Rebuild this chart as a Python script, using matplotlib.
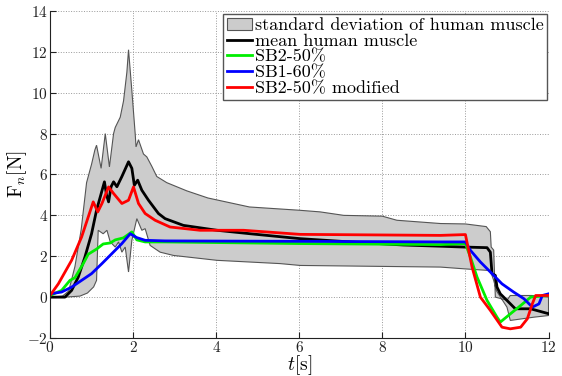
import numpy as np
import matplotlib
matplotlib.use("Agg")
import matplotlib.pyplot as plt

plt.rcParams['font.family'] = ['cmr10', 'DejaVu Serif']
plt.rcParams['mathtext.fontset'] = 'cm'
plt.rcParams['axes.formatter.use_mathtext'] = True

# standard deviation band of human muscle (upper / lower envelope)
t_up = [0, 0.3, 0.45, 0.6, 0.75, 0.88, 1.0, 1.08, 1.12, 1.23, 1.33, 1.43, 1.53, 1.57, 1.69,
        1.77, 1.85, 1.89, 1.97, 2.05, 2.07, 2.13, 2.25, 2.33, 2.45, 2.57, 2.81, 3.29, 3.8,
        4.8, 6.0, 6.5, 7.07, 8.0, 8.35, 9.4, 10.0, 10.5, 10.6, 10.62, 10.68, 10.72, 11.0,
        11.08, 11.6, 12.0]
f_up = [0, 0.05, 0.3, 1.5, 3.3, 5.6, 6.5, 7.2, 7.43, 6.3, 8.0, 6.37, 8.0, 8.3, 8.8,
        9.6, 11.0, 12.1, 10.1, 8.0, 7.35, 7.7, 7.0, 6.86, 6.4, 5.9, 5.6, 5.2, 4.85,
        4.41, 4.25, 4.17, 4.0, 3.96, 3.76, 3.6, 3.58, 3.45, 3.2, 2.45, 2.3, 0.0, -0.15,
        0.08, 0.08, 0.0]
t_lo = [0, 0.36, 0.72, 0.9, 1.05, 1.12, 1.16, 1.28, 1.37, 1.45, 1.57, 1.65, 1.73, 1.81,
        1.89, 1.97, 2.09, 2.21, 2.29, 2.41, 2.65, 2.97, 4.02, 5.54, 6.02, 9.4, 10.0, 10.6,
        10.68, 10.75, 11.0, 11.08, 11.65, 12.0]
f_lo = [0, 0, 0.05, 0.2, 0.5, 0.82, 3.27, 3.1, 3.27, 2.7, 2.45, 2.7, 2.2, 2.45,
        1.23, 2.78, 3.84, 3.27, 3.35, 2.53, 2.2, 2.04, 1.8, 1.64, 1.55, 1.47, 1.38, 1.3,
        0.82, 0.3, -0.49, -1.14, -0.98, -0.9]

# mean human muscle
t_mean = [0, 0.36, 0.52, 0.68, 0.84, 1.0, 1.12, 1.25, 1.31, 1.36, 1.41, 1.47, 1.53, 1.61,
          1.73, 1.89, 1.97, 2.03, 2.11, 2.21, 2.37, 2.61, 2.77, 3.21, 4.02, 4.82, 6.02,
          7.23, 8.5, 9.4, 9.96, 10.52, 10.6, 10.64, 10.72, 10.76, 10.84, 11.0, 11.2,
          11.57, 12.0]
f_mean = [0, 0, 0.33, 0.98, 1.96, 3.1, 4.25, 5.2, 5.64, 5.0, 4.66, 5.4, 5.64, 5.4,
          5.9, 6.62, 6.3, 5.47, 5.72, 5.23, 4.74, 4.09, 3.84, 3.51, 3.27, 3.1, 2.86,
          2.7, 2.55, 2.49, 2.45, 2.42, 2.2, 1.15, 1.06, 0.49, 0.16, -0.16, -0.57,
          -0.57, -0.81]

# SB2-50%
t_sb2 = [0, 0.28, 0.48, 0.6, 0.8, 0.92, 1.12, 1.28, 1.45, 1.57, 1.77, 1.97, 2.09, 2.29,
         2.77, 6.02, 9.4, 10.0, 10.12, 10.28, 10.52, 10.76, 10.84, 11.08, 11.33, 11.57, 12.0]
f_sb2 = [0.08, 0.33, 0.82, 0.95, 1.64, 2.1, 2.35, 2.6, 2.65, 2.8, 2.9, 3.19, 2.8, 2.7,
         2.7, 2.62, 2.57, 2.62, 1.96, 0.98, -0.16, -0.98, -1.22, -0.82, -0.41, 0.0, 0.08]

# SB1-60%
t_sb1 = [0, 0.28, 0.52, 0.76, 1.0, 1.25, 1.49, 1.73, 1.93, 2.09, 2.29, 2.77, 6.02, 9.4,
         10.0, 10.12, 10.36, 10.6, 10.88, 11.16, 11.41, 11.61, 11.77, 11.85, 12.0]
f_sb1 = [0.16, 0.25, 0.49, 0.82, 1.15, 1.64, 2.13, 2.62, 3.1, 2.91, 2.78, 2.75, 2.73, 2.7,
         2.7, 2.29, 1.72, 1.23, 0.65, 0.25, -0.08, -0.49, -0.33, 0.08, 0.16]

# SB2-50% modified
t_mod = [0, 0.2, 0.52, 0.76, 0.92, 1.04, 1.15, 1.25, 1.41, 1.53, 1.73, 1.89, 2.01, 2.13,
         2.29, 2.53, 2.89, 3.61, 4.66, 6.02, 9.4, 10.0, 10.16, 10.36, 10.6, 10.88, 11.08,
         11.33, 11.49, 11.61, 11.69, 12.0]
f_mod = [0.08, 0.65, 1.8, 2.94, 3.92, 4.66, 4.17, 4.58, 5.39, 5.07, 4.58, 4.74, 5.39, 4.58,
         4.09, 3.76, 3.43, 3.27, 3.27, 3.07, 3.02, 3.06, 1.47, 0.0, -0.65, -1.47, -1.55,
         -1.47, -1.06, -0.33, 0.08, 0.08]

fig = plt.figure(figsize=(5.62, 3.76), dpi=100)
ax = fig.add_axes([0.089, 0.101, 0.887, 0.87])

ax.fill(np.concatenate([t_up, t_lo[::-1]]), np.concatenate([f_up, f_lo[::-1]]),
        facecolor='#cccccc', edgecolor='#555555', linewidth=0.8,
        label='standard deviation of human muscle')
ax.plot(t_mean, f_mean, color='black', lw=2, label='mean human muscle')
ax.plot(t_sb2, f_sb2, color='#00ee00', lw=2, label='SB2-50%')
ax.plot(t_sb1, f_sb1, color='#0000ff', lw=2, label='SB1-60%')
ax.plot(t_mod, f_mod, color='#ff0000', lw=2, label='SB2-50% modified')

ax.set_xlim(0, 12)
ax.set_ylim(-2, 14)
ax.set_xticks(range(0, 13, 2))
ax.set_yticks(range(-2, 15, 2))
ax.grid(True, linestyle=':', color='#999999', linewidth=0.7)
ax.set_axisbelow(True)
for s in ['top', 'right']:
    ax.spines[s].set_visible(False)
for s in ['left', 'bottom']:
    ax.spines[s].set_color('#222222')
ax.tick_params(direction='in', length=4, labelsize=11, pad=1.5, colors='#222222')

ax.set_xlabel('$t$[s]', fontsize=14, labelpad=-1)
ax.set_ylabel(r'$\mathrm{F}_n$[N]', fontsize=14, labelpad=-1)

leg = ax.legend(loc='upper right', bbox_to_anchor=(0.997, 0.99), borderaxespad=0,
                fontsize=13, fancybox=False, framealpha=1, edgecolor='#555555',
                handlelength=1.4, handletextpad=0.15, labelspacing=0.0, borderpad=0.2)
leg.get_frame().set_linewidth(1.0)

fig.savefig('out.png', dpi=100)
